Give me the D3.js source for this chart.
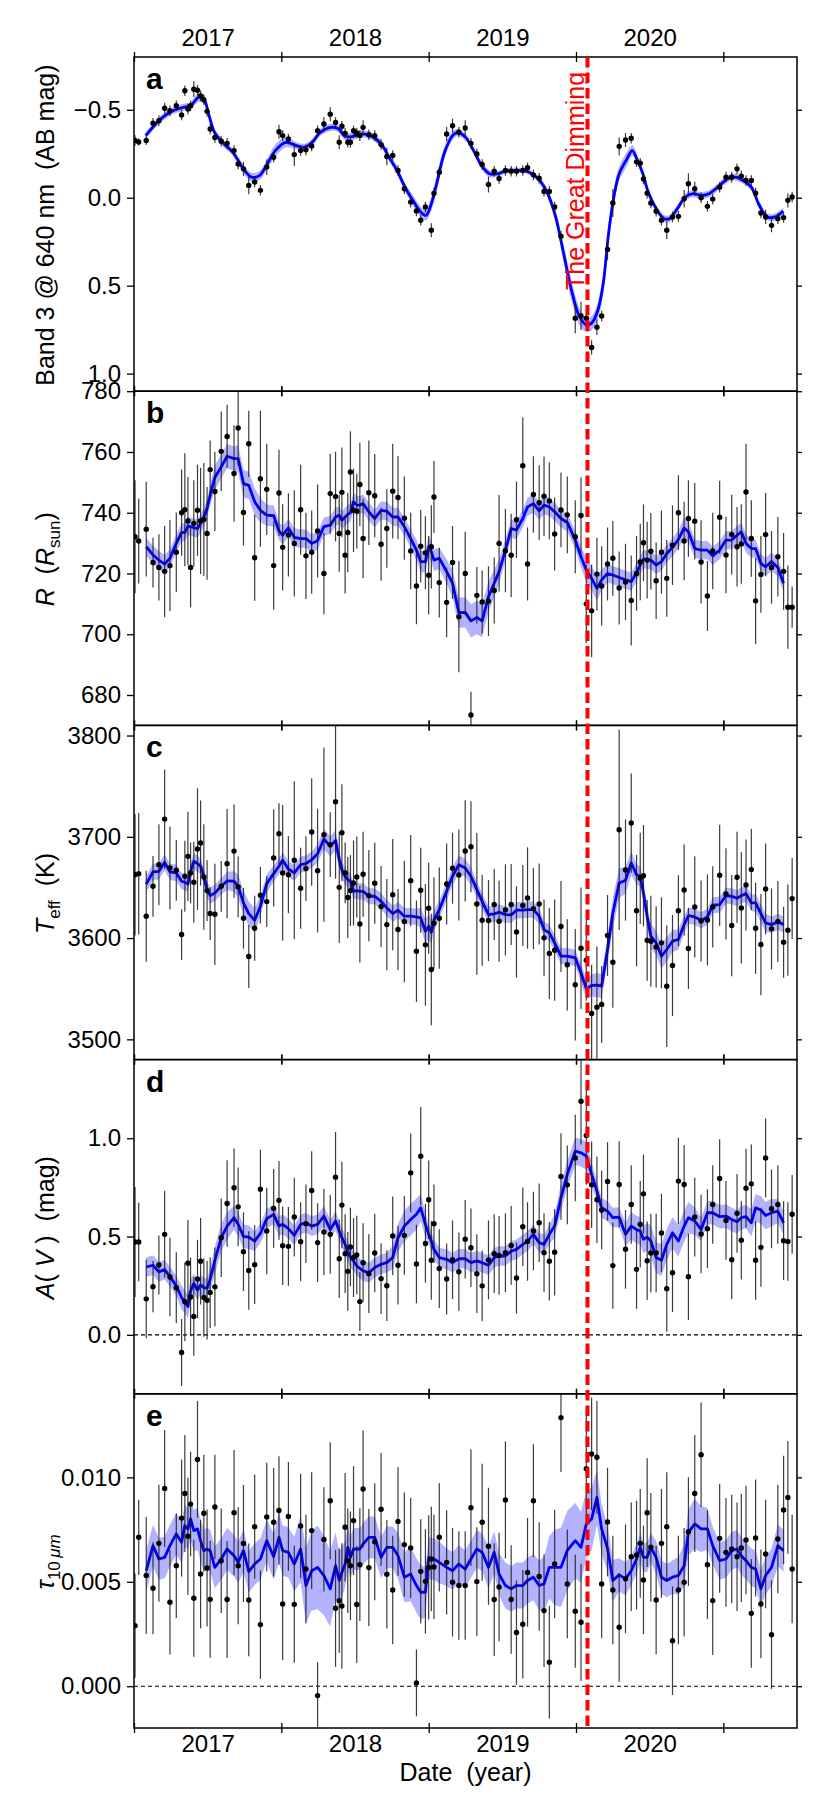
<!DOCTYPE html>
<html>
<head>
<meta charset="utf-8">
<script src="https://cdnjs.cloudflare.com/ajax/libs/d3/7.8.5/d3.min.js"></script>
<style>
  body { margin: 0; background: #fff; }
  text { font-family: "Liberation Sans", Arial, sans-serif; }
</style>
</head>
<body>
<svg id="chart" width="830" height="1816"></svg>
<script>
// Observation dates (decimal year), shared by every panel
var dates = [
  2017.007, 2017.032, 2017.083, 2017.129, 2017.169, 2017.208, 2017.244, 2017.287, 2017.323, 2017.345, 2017.366, 2017.384, 2017.406, 2017.431, 2017.452, 2017.474,
  2017.496, 2017.517, 2017.549, 2017.592, 2017.632, 2017.679, 2017.707, 2017.743, 2017.779, 2017.819, 2017.858, 2017.901, 2017.948, 2017.984, 2018.009, 2018.048,
  2018.088, 2018.131, 2018.167, 2018.206, 2018.246, 2018.289, 2018.332, 2018.368, 2018.393, 2018.411, 2018.433, 2018.451, 2018.469, 2018.490, 2018.512, 2018.533,
  2018.555, 2018.594, 2018.634, 2018.677, 2018.716, 2018.756, 2018.792, 2018.835, 2018.878, 2018.917, 2018.946, 2018.978, 2019.000, 2019.018, 2019.036, 2019.072,
  2019.122, 2019.162, 2019.205, 2019.248, 2019.287, 2019.327, 2019.363, 2019.406, 2019.445, 2019.478, 2019.521, 2019.560, 2019.596, 2019.639, 2019.671, 2019.711,
  2019.750, 2019.783, 2019.819, 2019.855, 2019.898, 2019.941, 2019.995, 2020.034, 2020.070, 2020.106, 2020.142, 2020.174, 2020.214, 2020.250, 2020.293, 2020.336,
  2020.375, 2020.411, 2020.436, 2020.458, 2020.483, 2020.508, 2020.544, 2020.580, 2020.616, 2020.655, 2020.695, 2020.734, 2020.763, 2020.806, 2020.849, 2020.892,
  2020.928, 2020.975, 2021.018, 2021.057, 2021.093, 2021.122, 2021.154, 2021.190, 2021.219, 2021.255, 2021.287, 2021.327, 2021.370, 2021.409, 2021.438, 2021.467
];

// a: Band 3 magnitude
var band3Mag = [
  -0.325, -0.317, -0.325, -0.423, -0.438, -0.509, -0.494, -0.523, -0.470, -0.608, -0.504, -0.523, -0.617, -0.611, -0.579, -0.557,
  -0.491, -0.391, -0.343, -0.321, -0.309, -0.268, -0.192, -0.164, -0.070, -0.089, -0.042, -0.174, -0.230, -0.375, -0.353, -0.334,
  -0.245, -0.268, -0.272, -0.294, -0.381, -0.419, -0.475, -0.428, -0.315, -0.406, -0.366, -0.315, -0.315, -0.381, -0.368, -0.353,
  -0.400, -0.358, -0.353, -0.302, -0.234, -0.240, -0.155, -0.051, 0.025, 0.075, 0.128, 0.053, null, 0.185, -0.026, -0.145,
  -0.362, -0.409, -0.372, -0.396, -0.309, -0.249, -0.189, -0.075, -0.151, -0.109, -0.155, -0.151, -0.151, -0.155, -0.170, -0.130,
  -0.111, -0.036, -0.036, 0.053, 0.219, null, 0.685, 0.672, 0.685, 0.851, 0.736, 0.672, 0.294, 0.030, -0.292, -0.328,
  -0.338, -0.204, -0.196, -0.106, -0.026, 0.030, 0.077, 0.128, 0.185, 0.109, 0.106, 0.006, -0.079, -0.051, 0.000, 0.049,
  0.008, -0.060, -0.117, -0.117, -0.164, -0.123, -0.098, -0.098, -0.026, 0.087, 0.109, 0.157, 0.119, 0.113, 0.015, -0.004
];
var band3Err = [
  0.03, 0.02, 0.025, 0.03, 0.03, 0.03, 0.03, 0.03, 0.03, 0.03, 0.03, 0.03, 0.045, 0.03, 0.03, 0.03,
  0.03, 0.03, 0.03, 0.03, 0.03, 0.03, 0.03, 0.04, 0.05, 0.03, 0.03, 0.045, 0.03, 0.04, 0.03, 0.03,
  0.065, 0.03, 0.03, 0.03, 0.03, 0.04, 0.04, 0.03, 0.04, 0.03, 0.03, 0.03, 0.03, 0.03, 0.03, 0.03,
  0.04, 0.03, 0.03, 0.03, 0.05, 0.03, 0.03, 0.03, 0.03, 0.03, 0.03, 0.03, 0.03, 0.04, 0.03, 0.03,
  0.04, 0.04, 0.03, 0.045, 0.03, 0.03, 0.03, 0.045, 0.03, 0.03, 0.03, 0.03, 0.03, 0.03, 0.03, 0.03,
  0.03, 0.03, 0.03, 0.03, 0.03, 0.03, 0.085, 0.08, 0.05, 0.04, 0.045, 0.03, 0.06, 0.08, 0.05, 0.04,
  0.03, 0.03, 0.03, 0.03, 0.03, 0.03, 0.03, 0.03, 0.05, 0.03, 0.03, 0.05, 0.06, 0.04, 0.03, 0.03,
  0.03, 0.03, 0.03, 0.03, 0.03, 0.03, 0.03, 0.03, 0.03, 0.03, 0.04, 0.04, 0.03, 0.03, 0.04, 0.03
];
// smooth fit for panel a has its own sampling
var band3FitYear = [
  2017.079, 2017.169, 2017.241, 2017.330, 2017.384, 2017.438, 2017.474, 2017.510, 2017.546, 2017.600,
  2017.671, 2017.743, 2017.797, 2017.851, 2017.905, 2017.959, 2018.031, 2018.102, 2018.156, 2018.210,
  2018.264, 2018.336, 2018.390, 2018.425, 2018.479, 2018.533, 2018.605, 2018.677, 2018.731, 2018.785,
  2018.839, 2018.892, 2018.946, 2018.982, 2019.018, 2019.054, 2019.108, 2019.162, 2019.198, 2019.251,
  2019.305, 2019.359, 2019.413, 2019.467, 2019.521, 2019.593, 2019.664, 2019.718, 2019.754, 2019.808,
  2019.862, 2019.916, 2019.969, 2020.023, 2020.070, 2020.106, 2020.149, 2020.185, 2020.221, 2020.257,
  2020.293, 2020.346, 2020.382, 2020.418, 2020.454, 2020.490, 2020.544, 2020.598, 2020.634, 2020.688,
  2020.742, 2020.795, 2020.849, 2020.903, 2020.975, 2021.029, 2021.083, 2021.136, 2021.190, 2021.244,
  2021.298, 2021.352, 2021.406
];
var band3Fit = [
  -0.353, -0.438, -0.485, -0.513, -0.523, -0.570, -0.560, -0.466, -0.372, -0.315,
  -0.258, -0.164, -0.117, -0.126, -0.192, -0.268, -0.315, -0.296, -0.287, -0.315,
  -0.372, -0.400, -0.391, -0.353, -0.347, -0.362, -0.353, -0.306, -0.230, -0.155,
  -0.060, 0.015, 0.081, 0.100, 0.034, -0.079, -0.258, -0.353, -0.372, -0.343,
  -0.268, -0.183, -0.136, -0.136, -0.151, -0.155, -0.151, -0.126, -0.098, -0.023,
  0.109, 0.317, 0.525, 0.675, 0.723, 0.713, 0.638, 0.487, 0.204, -0.004,
  -0.136, -0.221, -0.268, -0.211, -0.136, -0.032, 0.062, 0.119, 0.119, 0.062,
  -0.004, -0.023, -0.013, -0.023, -0.070, -0.108, -0.117, -0.098, -0.060, 0.043,
  0.109, 0.109, 0.075
];
var band3FitBand = [
  0.02, 0.02, 0.02, 0.02, 0.02, 0.025, 0.025, 0.025, 0.02, 0.02,
  0.02, 0.025, 0.025, 0.025, 0.03, 0.035, 0.03, 0.02, 0.02, 0.02,
  0.02, 0.02, 0.02, 0.02, 0.02, 0.02, 0.02, 0.02, 0.02, 0.025,
  0.025, 0.03, 0.03, 0.03, 0.04, 0.045, 0.035, 0.025, 0.02, 0.02,
  0.02, 0.02, 0.02, 0.015, 0.015, 0.015, 0.015, 0.015, 0.02, 0.025,
  0.035, 0.05, 0.06, 0.05, 0.04, 0.04, 0.05, 0.06, 0.06, 0.05,
  0.04, 0.04, 0.03, 0.025, 0.025, 0.025, 0.02, 0.02, 0.02, 0.02,
  0.02, 0.02, 0.02, 0.02, 0.02, 0.02, 0.02, 0.02, 0.02, 0.025,
  0.02, 0.02, 0.02
];

// b: radius (R_sun)
var radius = [
  732.1, 730.7, 734.6, 723.6, 722.0, 720.7, 722.6, 727.0, 740.0, 741.0, 737.3, 722.0, 736.5, 740.8, 737.3, 737.8,
  733.2, 754.2, 747.0, 760.2, 765.1, 752.9, 767.9, 740.1, 762.7, 725.2, 751.2, 747.7, 722.6, 746.5, 728.6, 732.7,
  729.9, 741.0, 725.8, 727.0, 734.0, 720.0, 746.3, 745.3, 733.2, 746.7, 726.0, 733.5, 753.4, 740.8, 740.5, 749.3,
  731.5, 746.6, 745.6, 729.6, 734.8, 747.1, 745.0, 738.2, 727.4, 715.9, 729.0, 726.8, 719.4, 728.8, 745.2, 717.0,
  710.5, 723.6, 705.8, 720.0, 673.4, 712.8, 710.6, 710.9, 714.4, 729.9, 727.5, 726.0, 737.7, 755.5, 723.1, 746.0,
  743.3, 745.4, 743.9, 733.0, 740.9, 739.3, 732.1, 739.1, 710.0, 707.7, 719.8, 715.9, 723.1, 725.0, 715.2, 717.2,
  711.1, 720.0, 723.8, 730.1, 724.4, 727.3, 717.6, 727.0, 718.4, 729.3, 740.0, 730.7, 738.1, 737.2, 723.8, 712.6,
  727.4, 738.5, 726.1, 732.8, 728.8, 729.7, 746.8, 731.5, 711.0, 719.7, 732.8, 722.0, 725.5, 720.7, 708.9, 708.9
];
var radiusErr = [
  18.6, 14.0, 15.6, 8.2, 10.9, 15.0, 15.0, 13.1, 14.2, 18.6, 14.5, 13.1, 14.2, 15.0, 17.5, 18.6,
  15.3, 9.6, 13.1, 13.1, 10.4, 15.9, 12.5, 10.9, 10.9, 14.2, 22.4, 15.0, 14.5, 14.2, 14.2, 13.7,
  17.5, 14.8, 14.2, 13.7, 15.3, 13.4, 13.1, 14.8, 12.6, 14.8, 12.6, 13.1, 13.4, 13.7, 12.3, 13.7,
  13.1, 17.2, 13.7, 12.0, 12.9, 15.6, 13.7, 13.7, 12.6, 12.6, 12.0, 12.0, 12.9, 13.7, 11.8, 11.5,
  11.5, 12.0, 18.3, 13.7, 7.7, 9.3, 10.4, 11.5, 10.9, 15.9, 13.7, 13.7, 12.6, 15.9, 12.0, 12.6,
  12.3, 13.1, 12.6, 12.0, 12.3, 12.6, 12.0, 12.6, 12.9, 15.3, 12.0, 13.1, 12.0, 12.3, 12.0, 12.6,
  14.8, 12.3, 12.6, 12.6, 12.6, 12.6, 12.6, 13.7, 12.6, 13.1, 12.3, 12.9, 12.6, 12.6, 13.7, 11.5,
  12.6, 12.0, 12.6, 13.1, 13.1, 13.1, 15.9, 12.6, 14.2, 12.6, 13.7, 12.0, 13.1, 12.6, 13.7, 6.8
];
var radiusFit = [
  null, null, 728.8, 726.1, 724.4, 723.1, 725.0, 729.9, 733.5, 733.5, 735.6, 735.4, 735.1, 734.8, 736.5, 738.6,
  741.4, 745.8, 751.6, 755.1, 758.6, 757.8, 757.8, 749.6, 749.0, 743.6, 740.8, 739.2, 739.0, 734.0, 732.6, 735.0,
  731.9, 731.5, 731.5, 729.9, 730.8, 735.4, 735.9, 738.6, 739.2, 737.5, 738.6, 739.5, 740.0, 743.6, 742.5, 742.5,
  743.0, 740.3, 738.1, 740.8, 740.5, 738.6, 738.6, 735.4, 731.5, 727.7, 723.9, 723.9, 728.8, 727.2, 724.4, 725.0,
  720.6, 716.8, 707.1, 707.2, 704.4, 705.5, 704.4, 712.4, 716.8, 720.6, 727.7, 734.8, 734.3, 738.1, 741.9, 743.0,
  740.6, 742.5, 741.9, 740.3, 738.1, 736.8, 731.0, 725.5, 721.1, 718.4, 715.1, 717.9, 720.0, 719.5, 718.7, 717.9,
  717.3, 720.3, 722.8, 724.7, 724.6, 724.4, 722.8, 723.9, 726.6, 728.6, 731.2, 735.0, 733.7, 728.2, 727.7, 727.7,
  725.8, 727.7, 731.0, 731.0, 732.6, 733.7, 729.9, 728.2, 728.2, 723.3, 722.2, 723.9, 722.0, 716.8, null, null
];
var radiusBand = [
  null, null, 3, 3, 3, 3, 3, 3, 3, 3, 3, 3, 3, 3, 3, 3,
  3, 3.5, 4, 4, 4, 4, 4.5, 4.5, 4.5, 4.5, 4, 3.5, 3.5, 3, 3, 3,
  3, 3, 3, 3, 3, 3, 3, 3, 3, 3, 3, 3, 3, 3, 3, 3,
  3, 3, 3, 3, 3, 3, 3, 3, 3, 3.5, 3.5, 3.5, 3.5, 3.5, 3.5, 3.5,
  4, 4.5, 5, 5, 5.5, 5.5, 5.5, 5, 4.5, 4, 3.5, 3, 3, 3, 3, 3,
  3, 3, 3, 3, 3, 3, 3, 3.5, 4, 4, 4, 3.5, 3, 3, 3, 3,
  3, 3, 3, 3, 3, 3, 3, 3, 3, 3, 3, 3.5, 3.5, 3, 3, 3,
  3, 3, 3, 3, 3, 3, 3, 3, 3, 3, 3, 3, 3, 3, null, null
];

// c: effective temperature (K)
var teff = [
  3662.6, 3663.6, 3621.6, 3651.1, 3672.5, 3717.5, 3669.2, 3666.9, 3603.5, 3661.0, 3680.7, 3664.3, 3655.1, 3687.9, 3693.9, 3660.3,
  3646.9, 3624.2, 3623.5, 3651.1, 3673.5, 3685.9, 3650.5, 3619.6, 3581.8, 3609.7, 3642.3, 3636.0, 3679.1, 3703.1, 3664.3, 3662.6,
  3676.8, 3649.2, 3668.6, 3704.7, 3666.6, 3702.1, 3692.2, 3734.6, 3650.1, 3704.0, 3664.3, 3640.0, 3646.9, 3654.4, 3660.3, 3614.0,
  3663.0, 3641.9, 3654.1, 3631.1, 3613.3, 3642.9, 3608.4, 3616.3, 3656.7, 3587.0, 3647.2, 3593.3, 3629.4, 3569.0, 3614.7, 3619.6,
  3653.4, 3668.9, 3662.3, 3686.0, 3690.2, 3633.7, 3617.6, 3617.3, 3633.1, 3616.6, 3627.8, 3633.1, 3606.1, 3632.1, 3639.6, 3629.1,
  3633.7, 3600.2, 3584.8, 3588.0, 3611.4, 3573.6, 3553.9, 3590.0, 3578.2, 3525.6, 3531.8, 3534.5, 3602.5, 3576.2, 3707.0, 3667.2,
  3713.6, 3627.1, 3659.0, 3661.6, 3597.9, 3596.9, 3591.3, 3595.3, 3552.5, 3572.9, 3627.1, 3647.5, 3589.7, 3630.8, 3616.9, 3617.9,
  3630.8, 3662.0, 3643.6, 3612.4, 3660.0, 3629.8, 3652.4, 3667.6, 3609.7, 3593.6, 3648.5, 3609.1, 3616.3, 3595.9, 3607.8, 3639.0
];
var teffErr = [
  60, 60, 45, 30, 40, 49, 41, 30, 25, 35, 44, 30, 40, 60, 42, 52,
  30, 26, 50, 25, 54, 46, 30, 30, 31, 32, 28, 25, 48, 30, 67, 38,
  78, 40, 32, 53, 61, 86, 32, 76, 55, 48, 30, 40, 35, 42, 40, 38,
  42, 45, 40, 40, 45, 55, 40, 60, 45, 50, 42, 60, 45, 55, 45, 50,
  40, 35, 45, 50, 45, 70, 45, 40, 35, 40, 45, 40, 45, 40, 50, 40,
  40, 38, 45, 50, 45, 45, 55, 60, 40, 48, 60, 38, 40, 45, 99, 50,
  49, 55, 45, 50, 40, 45, 40, 45, 60, 50, 35, 45, 40, 50, 40, 45,
  40, 50, 45, 50, 45, 55, 45, 40, 45, 50, 45, 40, 40, 35, 45, 40
];
var teffFit = [
  null, null, 3653.4, 3665.3, 3665.9, 3674.8, 3665.3, 3664.3, 3656.1, 3655.1, 3653.4, 3665.9, 3675.8, 3673.5, 3670.9, 3661.0,
  3647.8, 3641.9, 3644.6, 3651.1, 3656.4, 3656.1, 3651.1, 3634.7, 3624.2, 3617.6, 3631.4, 3653.8, 3663.6, 3670.9, 3676.8, 3668.2,
  3664.3, 3672.5, 3673.5, 3677.4, 3683.3, 3697.8, 3690.6, 3696.5, 3677.4, 3667.6, 3661.0, 3657.7, 3656.1, 3646.2, 3646.9, 3646.2,
  3646.2, 3641.3, 3641.3, 3636.3, 3629.8, 3624.2, 3627.5, 3621.6, 3621.6, 3620.9, 3619.9, 3606.8, 3611.7, 3605.8, 3617.6, 3628.1,
  3646.2, 3661.0, 3672.5, 3669.2, 3661.0, 3647.8, 3636.3, 3623.2, 3623.9, 3625.5, 3623.2, 3622.9, 3627.5, 3627.5, 3628.1, 3628.1,
  3621.6, 3608.4, 3605.1, 3595.3, 3582.1, 3582.1, 3580.5, 3565.7, 3549.9, 3553.2, 3553.5, 3552.5, 3588.7, 3624.8, 3654.4, 3657.0,
  3674.1, 3662.6, 3661.0, 3644.6, 3621.6, 3601.8, 3595.3, 3582.1, 3588.7, 3596.9, 3598.6, 3613.3, 3622.2, 3620.9, 3617.6, 3620.9,
  3632.4, 3633.1, 3641.9, 3641.3, 3639.3, 3641.9, 3643.9, 3634.7, 3634.7, 3624.2, 3615.0, 3613.3, 3616.0, 3613.3, null, null
];
var teffBand = [
  null, null, 8, 8, 8, 8, 8, 8, 8, 8, 8, 8, 8, 8, 8, 8,
  8, 8, 8, 8, 9, 10, 12, 12, 12, 12, 10, 9, 8, 8, 8, 8,
  8, 8, 8, 8, 9, 10, 10, 10, 10, 9, 8, 8, 8, 8, 8, 8,
  8, 8, 8, 8, 8, 8, 8, 8, 8, 8, 10, 12, 12, 12, 10, 9,
  9, 9, 9, 9, 9, 8, 8, 8, 8, 8, 8, 8, 8, 8, 8, 8,
  8, 8, 8, 8, 8, 8, 8, 9, 10, 11, 12, 12, 13, 15, 15, 13,
  12, 10, 10, 10, 11, 12, 12, 12, 12, 11, 10, 9, 8, 8, 8, 8,
  8, 8, 8, 8, 8, 8, 8, 8, 9, 9, 9, 8, 8, 8, null, null
];

// d: extinction A(V) (mag)
var av = [
  0.472, 0.472, 0.183, 0.245, 0.355, 0.511, 0.294, 0.240, -0.090, 0.168, 0.364, 0.193, 0.093, 0.284, 0.374, 0.190,
  0.176, 0.215, 0.244, 0.494, 0.668, 0.748, 0.651, 0.423, 0.327, 0.357, 0.741, 0.528, 0.643, 0.684, 0.453, 0.450,
  0.599, 0.474, 0.565, 0.734, 0.469, 0.523, 0.511, 0.802, 0.387, 0.660, 0.413, 0.323, 0.447, 0.393, 0.406, 0.169,
  0.367, 0.311, 0.416, 0.286, 0.250, 0.503, 0.354, 0.506, 0.824, 0.360, 0.909, 0.465, 0.687, 0.379, 0.565, 0.337,
  0.284, 0.382, 0.321, 0.486, 0.443, 0.311, 0.249, 0.381, 0.413, 0.404, 0.418, 0.455, 0.289, 0.550, 0.475, 0.528,
  0.570, 0.418, 0.374, 0.420, 0.805, 0.763, 0.900, 1.188, 1.014, 0.763, 0.687, 0.635, 0.780, 0.352, 0.765, 0.435,
  0.663, 0.333, 0.562, 0.717, 0.377, 0.416, 0.416, 0.518, 0.235, 0.316, 0.782, 0.765, 0.296, 0.599, 0.513, 0.540,
  0.663, 0.795, 0.582, 0.382, 0.618, 0.481, 0.746, 0.768, 0.379, 0.445, 0.900, 0.641, 0.663, 0.479, 0.475, 0.613
];
var avErr = [
  0.28, 0.20, 0.20, 0.13, 0.15, 0.22, 0.20, 0.18, 0.17, 0.20, 0.22, 0.20, 0.20, 0.20, 0.22, 0.20,
  0.20, 0.18, 0.20, 0.20, 0.22, 0.20, 0.20, 0.20, 0.20, 0.20, 0.20, 0.22, 0.20, 0.20, 0.20, 0.20,
  0.20, 0.20, 0.20, 0.20, 0.20, 0.22, 0.20, 0.23, 0.20, 0.22, 0.20, 0.20, 0.20, 0.20, 0.20, 0.15,
  0.20, 0.20, 0.20, 0.18, 0.18, 0.20, 0.20, 0.20, 0.20, 0.20, 0.25, 0.20, 0.20, 0.20, 0.20, 0.20,
  0.18, 0.20, 0.20, 0.20, 0.20, 0.20, 0.18, 0.20, 0.20, 0.20, 0.20, 0.20, 0.18, 0.20, 0.20, 0.20,
  0.20, 0.20, 0.20, 0.22, 0.22, 0.20, 0.22, 0.22, 0.25, 0.22, 0.22, 0.20, 0.20, 0.22, 0.22, 0.20,
  0.20, 0.20, 0.22, 0.20, 0.20, 0.20, 0.20, 0.20, 0.22, 0.20, 0.22, 0.20, 0.22, 0.20, 0.20, 0.20,
  0.20, 0.20, 0.20, 0.20, 0.20, 0.20, 0.20, 0.20, 0.20, 0.20, 0.20, 0.20, 0.20, 0.20, 0.20, 0.20
];
var avFit = [
  null, null, 0.345, 0.354, 0.320, 0.332, 0.296, 0.249, 0.190, 0.168, 0.144, 0.223, 0.261, 0.227, 0.254, 0.240,
  0.237, 0.283, 0.379, 0.494, 0.553, 0.596, 0.562, 0.501, 0.497, 0.477, 0.516, 0.591, 0.613, 0.553, 0.562, 0.540,
  0.506, 0.562, 0.570, 0.553, 0.562, 0.604, 0.536, 0.579, 0.528, 0.494, 0.460, 0.426, 0.393, 0.376, 0.350, 0.338,
  0.325, 0.316, 0.342, 0.359, 0.367, 0.393, 0.494, 0.553, 0.587, 0.613, 0.646, 0.562, 0.511, 0.477, 0.435, 0.393,
  0.384, 0.367, 0.387, 0.387, 0.367, 0.376, 0.367, 0.354, 0.393, 0.401, 0.401, 0.426, 0.435, 0.460, 0.477, 0.511,
  0.469, 0.460, 0.511, 0.553, 0.697, 0.816, 0.934, 0.926, 0.909, 0.816, 0.731, 0.646, 0.629, 0.596, 0.599, 0.511,
  0.553, 0.536, 0.528, 0.486, 0.497, 0.477, 0.393, 0.379, 0.460, 0.519, 0.477, 0.553, 0.596, 0.579, 0.536, 0.621,
  0.621, 0.601, 0.604, 0.587, 0.575, 0.596, 0.601, 0.570, 0.646, 0.635, 0.607, 0.621, 0.629, 0.570, null, null
];
var avBand = [
  null, null, 0.05, 0.05, 0.05, 0.05, 0.05, 0.05, 0.06, 0.06, 0.06, 0.06, 0.05, 0.05, 0.05, 0.05,
  0.05, 0.06, 0.07, 0.07, 0.07, 0.06, 0.06, 0.06, 0.06, 0.05, 0.05, 0.05, 0.05, 0.05, 0.05, 0.05,
  0.05, 0.05, 0.05, 0.05, 0.05, 0.05, 0.05, 0.05, 0.05, 0.05, 0.05, 0.05, 0.05, 0.05, 0.05, 0.05,
  0.05, 0.05, 0.05, 0.05, 0.05, 0.06, 0.07, 0.08, 0.08, 0.08, 0.07, 0.06, 0.05, 0.05, 0.05, 0.05,
  0.05, 0.05, 0.05, 0.05, 0.05, 0.05, 0.05, 0.05, 0.05, 0.05, 0.05, 0.05, 0.05, 0.05, 0.05, 0.05,
  0.05, 0.05, 0.05, 0.06, 0.07, 0.07, 0.07, 0.07, 0.07, 0.06, 0.05, 0.05, 0.05, 0.05, 0.05, 0.06,
  0.07, 0.07, 0.07, 0.07, 0.07, 0.08, 0.08, 0.08, 0.08, 0.08, 0.08, 0.08, 0.08, 0.07, 0.06, 0.06,
  0.06, 0.06, 0.06, 0.06, 0.06, 0.06, 0.06, 0.07, 0.07, 0.07, 0.07, 0.07, 0.06, 0.06, null, null
];

// e: optical depth at 10 micron
var tau = [
  0.00290, 0.00713, 0.00530, 0.00469, 0.00684, 0.00947, 0.00402, 0.00577, 0.00805, 0.00923, 0.00718, 0.00872, 0.00421, 0.01086, 0.00537, 0.00828,
  0.00566, 0.00416, 0.00858, 0.00601, 0.00415, 0.00831, 0.00577, 0.00683, 0.00413, 0.00764, 0.00295, 0.00810, 0.00785, 0.00841, 0.00394, 0.00813,
  0.00392, 0.00767, 0.00561, 0.00745, -0.00045, 0.00703, 0.00888, 0.00373, 0.00410, 0.00384, 0.00761, 0.00601, 0.00577, 0.00793, 0.00391, 0.00582,
  0.00944, 0.00568, 0.00692, 0.00847, 0.00536, 0.00461, 0.00789, 0.00678, 0.00662, 0.00016, 0.00550, 0.00502, 0.00569, 0.00609, 0.00571, 0.00713,
  0.00593, 0.00498, 0.00482, 0.00482, 0.00855, 0.00501, 0.00785, 0.00670, 0.00415, 0.00475, 0.00892, 0.00415, 0.00257, 0.00297, 0.00545, 0.00888,
  0.00525, 0.00362, 0.00115, 0.00585, 0.01286, 0.00490, 0.00359, 0.00306, 0.01041, 0.01112, 0.01096, 0.00490, 0.00786, 0.00461, 0.00282, 0.00514,
  0.00620, 0.00628, 0.00684, 0.00509, 0.00831, 0.00665, 0.00413, 0.00684, 0.00764, 0.00218, 0.00461, 0.00498, 0.00740, 0.00923, 0.01108, 0.00582,
  0.00410, 0.00708, 0.00641, 0.00657, 0.00620, 0.00662, 0.00700, 0.00349, 0.00710, 0.00394, 0.00633, 0.00247, 0.00705, 0.00844, 0.00904, 0.00561
];
var tauErr = [
  0.0025, 0.0018, 0.0028, 0.0022, 0.0028, 0.0028, 0.0025, 0.0025, 0.0028, 0.0028, 0.0028, 0.0025, 0.0028, 0.0028, 0.0026, 0.0028,
  0.0028, 0.0028, 0.0025, 0.0025, 0.0028, 0.0030, 0.0028, 0.0028, 0.0027, 0.0025, 0.0026, 0.0026, 0.0026, 0.0026, 0.0027, 0.0026,
  0.0028, 0.0025, 0.0026, 0.0028, 0.0016, 0.0025, 0.0028, 0.0028, 0.0025, 0.0030, 0.0026, 0.0025, 0.0026, 0.0026, 0.0028, 0.0027,
  0.0028, 0.0028, 0.0028, 0.0027, 0.0026, 0.0026, 0.0026, 0.0025, 0.0024, 0.0016, 0.0025, 0.0025, 0.0025, 0.0025, 0.0025, 0.0026,
  0.0025, 0.0026, 0.0026, 0.0026, 0.0028, 0.0026, 0.0028, 0.0028, 0.0027, 0.0026, 0.0028, 0.0026, 0.0025, 0.0026, 0.0026, 0.0027,
  0.0026, 0.0027, 0.0027, 0.0026, 0.0026, 0.0026, 0.0027, 0.0028, 0.0028, 0.0027, 0.0027, 0.0026, 0.0026, 0.0026, 0.0026, 0.0026,
  0.0026, 0.0026, 0.0026, 0.0026, 0.0026, 0.0026, 0.0026, 0.0026, 0.0026, 0.0026, 0.0026, 0.0026, 0.0026, 0.0028, 0.0025, 0.0026,
  0.0026, 0.0026, 0.0026, 0.0026, 0.0026, 0.0026, 0.0026, 0.0026, 0.0028, 0.0026, 0.0026, 0.0026, 0.0026, 0.0026, 0.0027, 0.0026
];
var tauFit = [
  null, null, 0.00553, 0.00673, 0.00609, 0.00617, 0.00673, 0.00729, 0.00689, 0.00769, 0.00753, 0.00801, 0.00745, 0.00753, 0.00697, 0.00649,
  0.00657, 0.00649, 0.00569, 0.00609, 0.00657, 0.00625, 0.00593, 0.00649, 0.00549, 0.00585, 0.00609, 0.00697, 0.00620, 0.00713, 0.00649, 0.00641,
  0.00585, 0.00657, 0.00482, 0.00553, 0.00569, 0.00530, 0.00466, 0.00577, 0.00506, 0.00545, 0.00585, 0.00665, 0.00617, 0.00657, 0.00657, 0.00657,
  0.00681, 0.00713, 0.00713, 0.00617, 0.00665, 0.00665, 0.00625, 0.00522, 0.00537, 0.00482, 0.00450, 0.00450, 0.00617, 0.00609, 0.00609, 0.00593,
  0.00569, 0.00553, 0.00585, 0.00561, 0.00609, 0.00657, 0.00641, 0.00569, 0.00641, 0.00537, 0.00482, 0.00466, 0.00482, 0.00482, 0.00506, 0.00522,
  0.00482, 0.00490, 0.00569, 0.00569, 0.00569, 0.00650, 0.00697, 0.00665, 0.00777, 0.00801, 0.00904, 0.00753, 0.00660, 0.00506, 0.00533, 0.00514,
  0.00553, 0.00609, 0.00665, 0.00617, 0.00617, 0.00665, 0.00617, 0.00522, 0.00506, 0.00522, 0.00530, 0.00577, 0.00737, 0.00777, 0.00753, 0.00753,
  0.00673, 0.00601, 0.00609, 0.00649, 0.00657, 0.00625, 0.00601, 0.00569, 0.00561, 0.00466, 0.00530, 0.00569, 0.00673, 0.00649, null, null
];
var tauBand = [
  null, null, 0.0010, 0.0010, 0.0010, 0.0010, 0.0010, 0.0010, 0.0010, 0.0010, 0.0010, 0.0010, 0.0010, 0.0010, 0.0010, 0.0010,
  0.0010, 0.0010, 0.0010, 0.0010, 0.0010, 0.0010, 0.0010, 0.0010, 0.0010, 0.0010, 0.0010, 0.0010, 0.0011, 0.0012, 0.0012, 0.0012,
  0.0013, 0.0016, 0.0018, 0.0019, 0.0020, 0.0019, 0.0018, 0.0016, 0.0014, 0.0012, 0.0011, 0.0010, 0.0010, 0.0010, 0.0010, 0.0010,
  0.0010, 0.0010, 0.0010, 0.0010, 0.0010, 0.0010, 0.0011, 0.0012, 0.0013, 0.0013, 0.0013, 0.0012, 0.0010, 0.0010, 0.0010, 0.0010,
  0.0009, 0.0009, 0.0009, 0.0009, 0.0009, 0.0009, 0.0009, 0.0010, 0.0010, 0.0010, 0.0011, 0.0011, 0.0011, 0.0011, 0.0011, 0.0011,
  0.0012, 0.0013, 0.0015, 0.0018, 0.0019, 0.0019, 0.0018, 0.0017, 0.0016, 0.0015, 0.0013, 0.0012, 0.0011, 0.0010, 0.0008, 0.0008,
  0.0007, 0.0007, 0.0007, 0.0007, 0.0007, 0.0007, 0.0008, 0.0008, 0.0008, 0.0008, 0.0009, 0.0010, 0.0011, 0.0012, 0.0011, 0.0010,
  0.0009, 0.0009, 0.0009, 0.0009, 0.0009, 0.0009, 0.0009, 0.0009, 0.0009, 0.0009, 0.0009, 0.0009, 0.0010, 0.0010, null, null
];

// axis values
var yearTicks = [2017, 2018, 2019, 2020, 2021];
var yearLabels = ['2017', '2018', '2019', '2020'];
var dimmingDate = 2020.078;
var ticksA = [-0.5, 0.0, 0.5, 1.0];
var ticksB = [680, 700, 720, 740, 760, 780];
var ticksC = [3500, 3600, 3700, 3800];
var ticksD = [0.0, 0.5, 1.0];
var ticksE = [0.000, 0.005, 0.010];

// layout
var W = 830, H = 1816;
var plotLeft = 134, plotRight = 797, plotTop = 57, panelH = 334.2;
var FONT = '"Liberation Sans", Arial, sans-serif';

var svg = d3.select('#chart');
svg.append('rect').attr('width', W).attr('height', H).attr('fill', '#fff');

var x = d3.scaleLinear().domain([2017, 2021.5]).range([plotLeft, plotRight]);

var panels = [
  { letter: 'a', val: band3Mag, err: band3Err, fitT: band3FitYear, fitV: band3Fit, fitB: band3FitBand,
    domain: [-0.8, 1.1], invert: true, smooth: true, ticks: ticksA, fmt: d3.format('.1f'),
    label: [{ t: 'Band 3 @ 640 nm  (AB mag)' }] },
  { letter: 'b', val: radius, err: radiusErr, fitT: dates, fitV: radiusFit, fitB: radiusBand,
    domain: [670, 780], ticks: ticksB, fmt: d3.format('d'),
    label: [{ t: 'R', it: true }, { t: '  (' }, { t: 'R', it: true }, { t: 'sun', sub: true }, { t: ')' }] },
  { letter: 'c', val: teff, err: teffErr, fitT: dates, fitV: teffFit, fitB: teffBand,
    domain: [3480, 3810], ticks: ticksC, fmt: d3.format('d'),
    label: [{ t: 'T', it: true }, { t: 'eff', sub: true }, { t: '  (K)' }] },
  { letter: 'd', val: av, err: avErr, fitT: dates, fitV: avFit, fitB: avBand,
    domain: [-0.3, 1.4], ticks: ticksD, fmt: d3.format('.1f'), zero: true,
    label: [{ t: 'A', it: true }, { t: '( ' }, { t: 'V', it: true }, { t: ' )  (mag)' }] },
  { letter: 'e', val: tau, err: tauErr, fitT: dates, fitV: tauFit, fitB: tauBand,
    domain: [-0.002, 0.014], ticks: ticksE, fmt: d3.format('.3f'), zero: true,
    label: [{ t: '\u03c4', it: true }, { t: '10\u2009', sub: true }, { t: '\u03bcm', sub: true, it: true }] }
];

function styleAxis(sel) {
  sel.select('.domain').remove();
  sel.selectAll('.tick line').attr('stroke', '#000').attr('stroke-width', 1.3);
  sel.selectAll('.tick text').attr('fill', '#000');
  sel.attr('font-size', 24).attr('font-family', FONT);
}

function drawPanel(p, i) {
  var top = plotTop + i * panelH, bottom = top + panelH;
  var y = d3.scaleLinear().domain(p.domain).range(p.invert ? [top, bottom] : [bottom, top]);
  var g = svg.append('g').attr('class', 'panel-' + p.letter);

  var clipId = 'clip-' + p.letter;
  svg.append('clipPath').attr('id', clipId).append('rect')
     .attr('x', plotLeft).attr('y', top)
     .attr('width', plotRight - plotLeft).attr('height', panelH);
  var inner = g.append('g').attr('clip-path', 'url(#' + clipId + ')');

  if (p.zero) {
    inner.append('line')
      .attr('x1', plotLeft).attr('x2', plotRight)
      .attr('y1', y(0)).attr('y2', y(0))
      .attr('stroke', '#000').attr('stroke-width', 1.2)
      .attr('stroke-dasharray', '4,3');
  }

  // running fit with its uncertainty band
  var fit = p.fitT.map(function(t, k) { return { t: t, v: p.fitV[k], b: p.fitB[k] }; })
                  .filter(function(d) { return d.v != null; });
  var curve = p.smooth ? d3.curveCatmullRom.alpha(0.5) : d3.curveLinear;
  inner.append('path').datum(fit)
    .attr('d', d3.area().curve(curve)
      .x(function(d) { return x(d.t); })
      .y0(function(d) { return y(d.v - d.b); })
      .y1(function(d) { return y(d.v + d.b); }))
    .attr('fill', '#0000ff').attr('fill-opacity', 0.3);
  inner.append('path').datum(fit)
    .attr('d', d3.line().curve(curve)
      .x(function(d) { return x(d.t); })
      .y(function(d) { return y(d.v); }))
    .attr('fill', 'none').attr('stroke', '#0000ff').attr('stroke-width', 2.8)
    .attr('stroke-linejoin', 'round');

  // measurements
  var pts = dates.map(function(t, k) { return { t: t, v: p.val[k], e: p.err[k] }; })
                 .filter(function(d) { return d.v != null; });
  inner.selectAll('line.err').data(pts).enter().append('line')
    .attr('class', 'err')
    .attr('x1', function(d) { return x(d.t); })
    .attr('x2', function(d) { return x(d.t); })
    .attr('y1', function(d) { return y(d.v - d.e); })
    .attr('y2', function(d) { return y(d.v + d.e); })
    .attr('stroke', '#1a1a1a').attr('stroke-width', 1.2).attr('stroke-opacity', 0.85);
  inner.selectAll('circle.pt').data(pts).enter().append('circle')
    .attr('class', 'pt')
    .attr('cx', function(d) { return x(d.t); })
    .attr('cy', function(d) { return y(d.v); })
    .attr('r', 2.7).attr('fill', '#000');

  // axes
  g.append('g').attr('transform', 'translate(' + plotLeft + ',0)')
    .call(d3.axisLeft(y).tickValues(p.ticks).tickFormat(p.fmt).tickSize(7).tickPadding(6))
    .call(styleAxis);
  g.append('g').attr('transform', 'translate(' + plotRight + ',0)')
    .call(d3.axisRight(y).tickValues(p.ticks).tickFormat('').tickSize(5))
    .call(styleAxis);
  [top, bottom].forEach(function(yy) {
    g.append('g').attr('transform', 'translate(0,' + yy + ')')
      .call(d3.axisTop(x).tickValues(yearTicks).tickFormat('').tickSize(5))
      .call(styleAxis);
    g.append('g').attr('transform', 'translate(0,' + yy + ')')
      .call(d3.axisBottom(x).tickValues(yearTicks).tickFormat('').tickSize(5))
      .call(styleAxis);
  });

  g.append('rect')
    .attr('x', plotLeft).attr('y', top)
    .attr('width', plotRight - plotLeft).attr('height', panelH)
    .attr('fill', 'none').attr('stroke', '#000').attr('stroke-width', 1.5);

  // panel letter
  g.append('text')
    .attr('x', plotLeft + 12).attr('y', top + 32)
    .attr('font-size', 30).attr('font-weight', 'bold')
    .text(p.letter);

  // y label, rotated
  var lab = g.append('text')
    .attr('transform', 'translate(54,' + ((top + bottom) / 2 + 1) + ') rotate(-90)')
    .attr('text-anchor', 'middle').attr('font-size', 25)
    .style('white-space', 'pre');
  var shifted = false;
  p.label.forEach(function(s) {
    var ts = lab.append('tspan').text(s.t);
    if (s.it) ts.attr('font-style', 'italic');
    if (s.sub && !shifted) { ts.attr('dy', 6); shifted = true; }
    if (!s.sub && shifted) { ts.attr('dy', -6); shifted = false; }
    if (s.sub) ts.attr('font-size', 17);
  });
}

panels.forEach(drawPanel);

// year labels centred in each year, top and bottom
var yearMid = yearLabels.map(function(s) { return +s + 0.5; });
svg.append('g').attr('transform', 'translate(0,' + plotTop + ')')
  .call(d3.axisTop(x).tickValues(yearMid).tickSize(0).tickPadding(11)
    .tickFormat(function(d) { return String(Math.floor(d)); }))
  .call(styleAxis);
var plotBottom = plotTop + panels.length * panelH;
svg.append('g').attr('transform', 'translate(0,' + plotBottom + ')')
  .call(d3.axisBottom(x).tickValues(yearMid).tickSize(0).tickPadding(7)
    .tickFormat(function(d) { return String(Math.floor(d)); }))
  .call(styleAxis);

svg.append('text')
  .attr('x', (plotLeft + plotRight) / 2).attr('y', 1781)
  .attr('text-anchor', 'middle').attr('font-size', 25)
  .style('white-space', 'pre')
  .text('Date  (year)');

// the Great Dimming marker across all panels
svg.append('line')
  .attr('x1', x(dimmingDate)).attr('x2', x(dimmingDate))
  .attr('y1', plotTop).attr('y2', plotBottom)
  .attr('stroke', '#ff0000').attr('stroke-width', 4)
  .attr('stroke-dasharray', '10.5,5');
svg.append('text')
  .attr('transform', 'translate(' + (x(dimmingDate) - 3) + ',290) rotate(-90)')
  .attr('font-size', 25).attr('fill', '#ff0000')
  .text('The Great Dimming');
</script>
</body>
</html>
